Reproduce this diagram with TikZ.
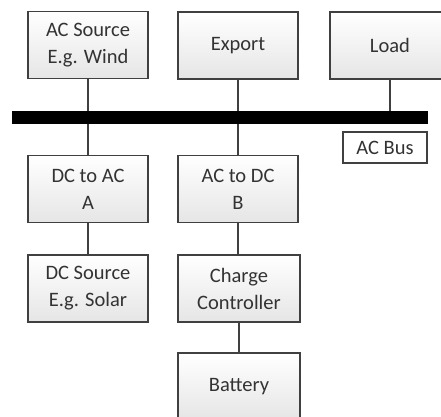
\documentclass[tikz,border=0pt]{standalone}
\usepackage{fontspec}
\setmainfont{Carlito}
\usepackage{tikz}
\usetikzlibrary{positioning}
\definecolor{bline}{HTML}{404040}
\definecolor{btext}{HTML}{333333}

\tikzset{
  unitbox/.style={draw=bline, line width=1.1pt, top color=white, bottom color=black!10,
    minimum width=120pt, minimum height=67pt, align=center, text=btext,
    font=\fontsize{20.5}{27}\selectfont, inner sep=0pt},
  buslabel/.style={draw=bline, line width=1.1pt, fill=white, minimum width=84pt,
    minimum height=31pt, text=btext, font=\fontsize{20.5}{24}\selectfont, inner sep=0pt},
  link/.style={draw=bline, line width=1.1pt}
}

\begin{document}
\begin{tikzpicture}[x=1pt, y=-1pt]

  \useasboundingbox (0,0) rectangle (441,416);

  %% AC side
  \node[unitbox] (acsrc) at (88,45) {AC Source\\E.g. Wind};
  \node[unitbox] (export) at (238,45.5) {Export};
  \node[unitbox] (load) at (390,45.5) {Load};

  %% Bus bar
  \node[fill=black, minimum width=416pt, minimum height=13pt, inner sep=0pt] (bus) at (220,117.5) {};
  \node[buslabel] (acbus) at (385,147.5) {AC Bus};

  %% Converters
  \node[unitbox] (dcac) at (88,189) {DC to AC\\A};
  \node[unitbox] (acdc) at (238,189) {AC to DC\\B};

  %% DC side
  \node[unitbox] (dcsrc) at (88,288.5) {DC Source\\E.g. Solar};
  \node[unitbox, minimum width=122pt] (charge) at (239,288.5) {Charge\\Controller};
  \node[unitbox, minimum width=122pt] (battery) at (239,386.5) {Battery};

  %% Links
  \draw[link] (acsrc.south) -- (acsrc.south |- bus.north);
  \draw[link] (export.south) -- (export.south |- bus.north);
  \draw[link] (load.south) -- (load.south |- bus.north);
  \draw[link] (dcac.north) -- (dcac.north |- bus.south);
  \draw[link] (acdc.north) -- (acdc.north |- bus.south);
  \draw[link] (dcac) -- (dcsrc);
  \draw[link] (acdc.south) -- (acdc.south |- charge.north);
  \draw[link] (charge) -- (battery);

\end{tikzpicture}
\end{document}
